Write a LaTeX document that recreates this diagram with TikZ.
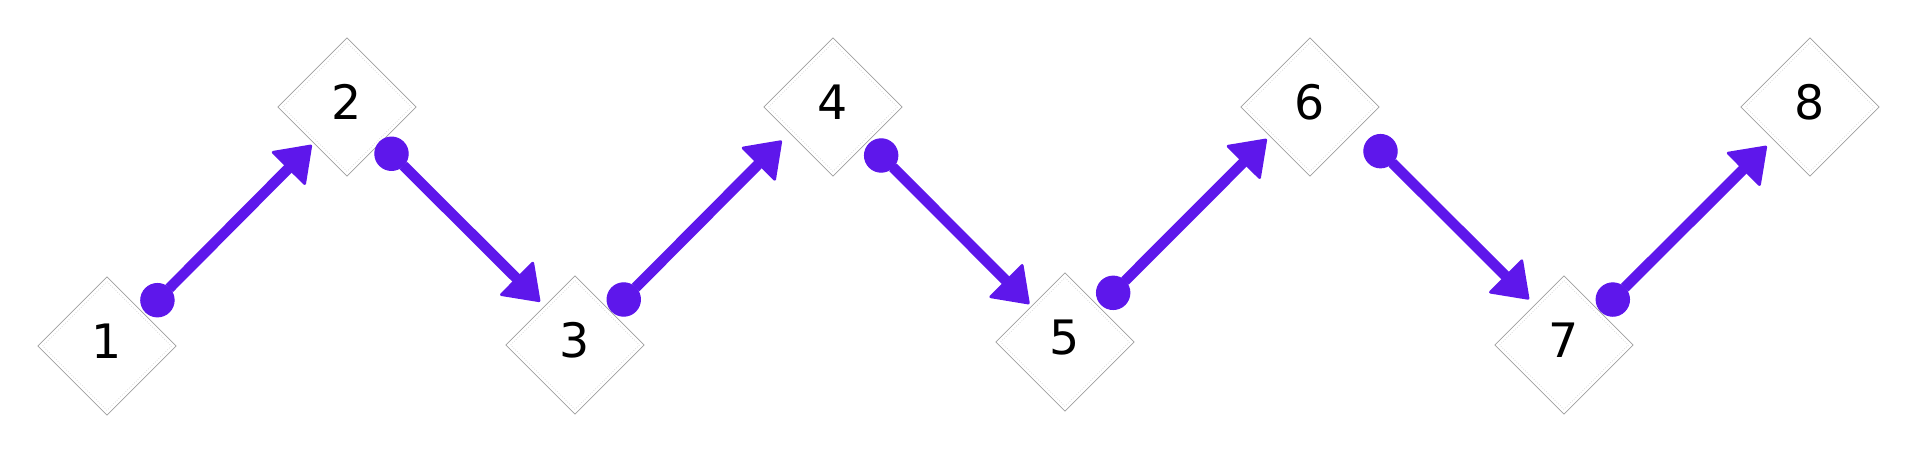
\documentclass[tikz,border=0pt]{standalone}
\usepackage{fontspec}
\newfontfamily\numfont{DejaVu Sans}
\usetikzlibrary{shapes.geometric,arrows.meta,calc}
\definecolor{arrowpurple}{RGB}{94,23,235}
\begin{document}
\begin{tikzpicture}[x=0.02cm,y=-0.02cm,
  dia/.style={diamond, aspect=1, draw=gray!75, line width=0.4pt, fill=white,
    minimum size=78.8pt, inner sep=0pt, text depth=5.6pt,
    font=\numfont\fontsize{27}{30}\selectfont,
    path picture={\draw[gray!35, densely dotted, line width=0.4pt]
      ([yshift=-2.7pt]path picture bounding box.north) --
      ([xshift=-2.7pt]path picture bounding box.east) --
      ([yshift=2.7pt]path picture bounding box.south) --
      ([xshift=2.7pt]path picture bounding box.west) -- cycle;}},
  link/.style={draw=arrowpurple, line width=6pt,
    {Circle[length=19.6pt,line width=0.6pt]}-{Triangle[length=19.8pt,width=28pt,round,line width=1.6pt]}}]
\useasboundingbox (0,0) rectangle (1912,453);
\node[dia] (n1) at (107,346) {1};
\node[dia] (n2) at (347,107) {2};
\node[dia] (n3) at (575,345) {3};
\node[dia] (n4) at (833,107) {4};
\node[dia] (n5) at (1065,342) {5};
\node[dia] (n6) at (1310,107) {6};
\node[dia] (n7) at (1564,345) {7};
\node[dia] (n8) at (1810,107) {8};
% connector end points, placed relative to the nodes
\coordinate (s12) at ($(n1)+(38.3,-33.6)$);
\coordinate (t12) at ($(n2)+(-35.3,38)$);
\coordinate (s23) at ($(n2)+(32.3,34.6)$);
\coordinate (t23) at ($(n3)+(-35,-43.3)$);
\coordinate (s34) at ($(n3)+(36.6,-33.3)$);
\coordinate (t34) at ($(n4)+(-51.3,33.7)$);
\coordinate (s45) at ($(n4)+(36,36.3)$);
\coordinate (t45) at ($(n5)+(-35.7,-38)$);
\coordinate (s56) at ($(n5)+(36,-37)$);
\coordinate (t56) at ($(n6)+(-43.3,32)$);
\coordinate (s67) at ($(n6)+(58.3,32)$);
\coordinate (t67) at ($(n7)+(-35,-45.7)$);
\coordinate (s78) at ($(n7)+(36.6,-33.3)$);
\coordinate (t78) at ($(n8)+(-43.3,39)$);
\draw[link] (s12) -- (t12);
\draw[link] (s23) -- (t23);
\draw[link] (s34) -- (t34);
\draw[link] (s45) -- (t45);
\draw[link] (s56) -- (t56);
\draw[link] (s67) -- (t67);
\draw[link] (s78) -- (t78);
\end{tikzpicture}
\end{document}
